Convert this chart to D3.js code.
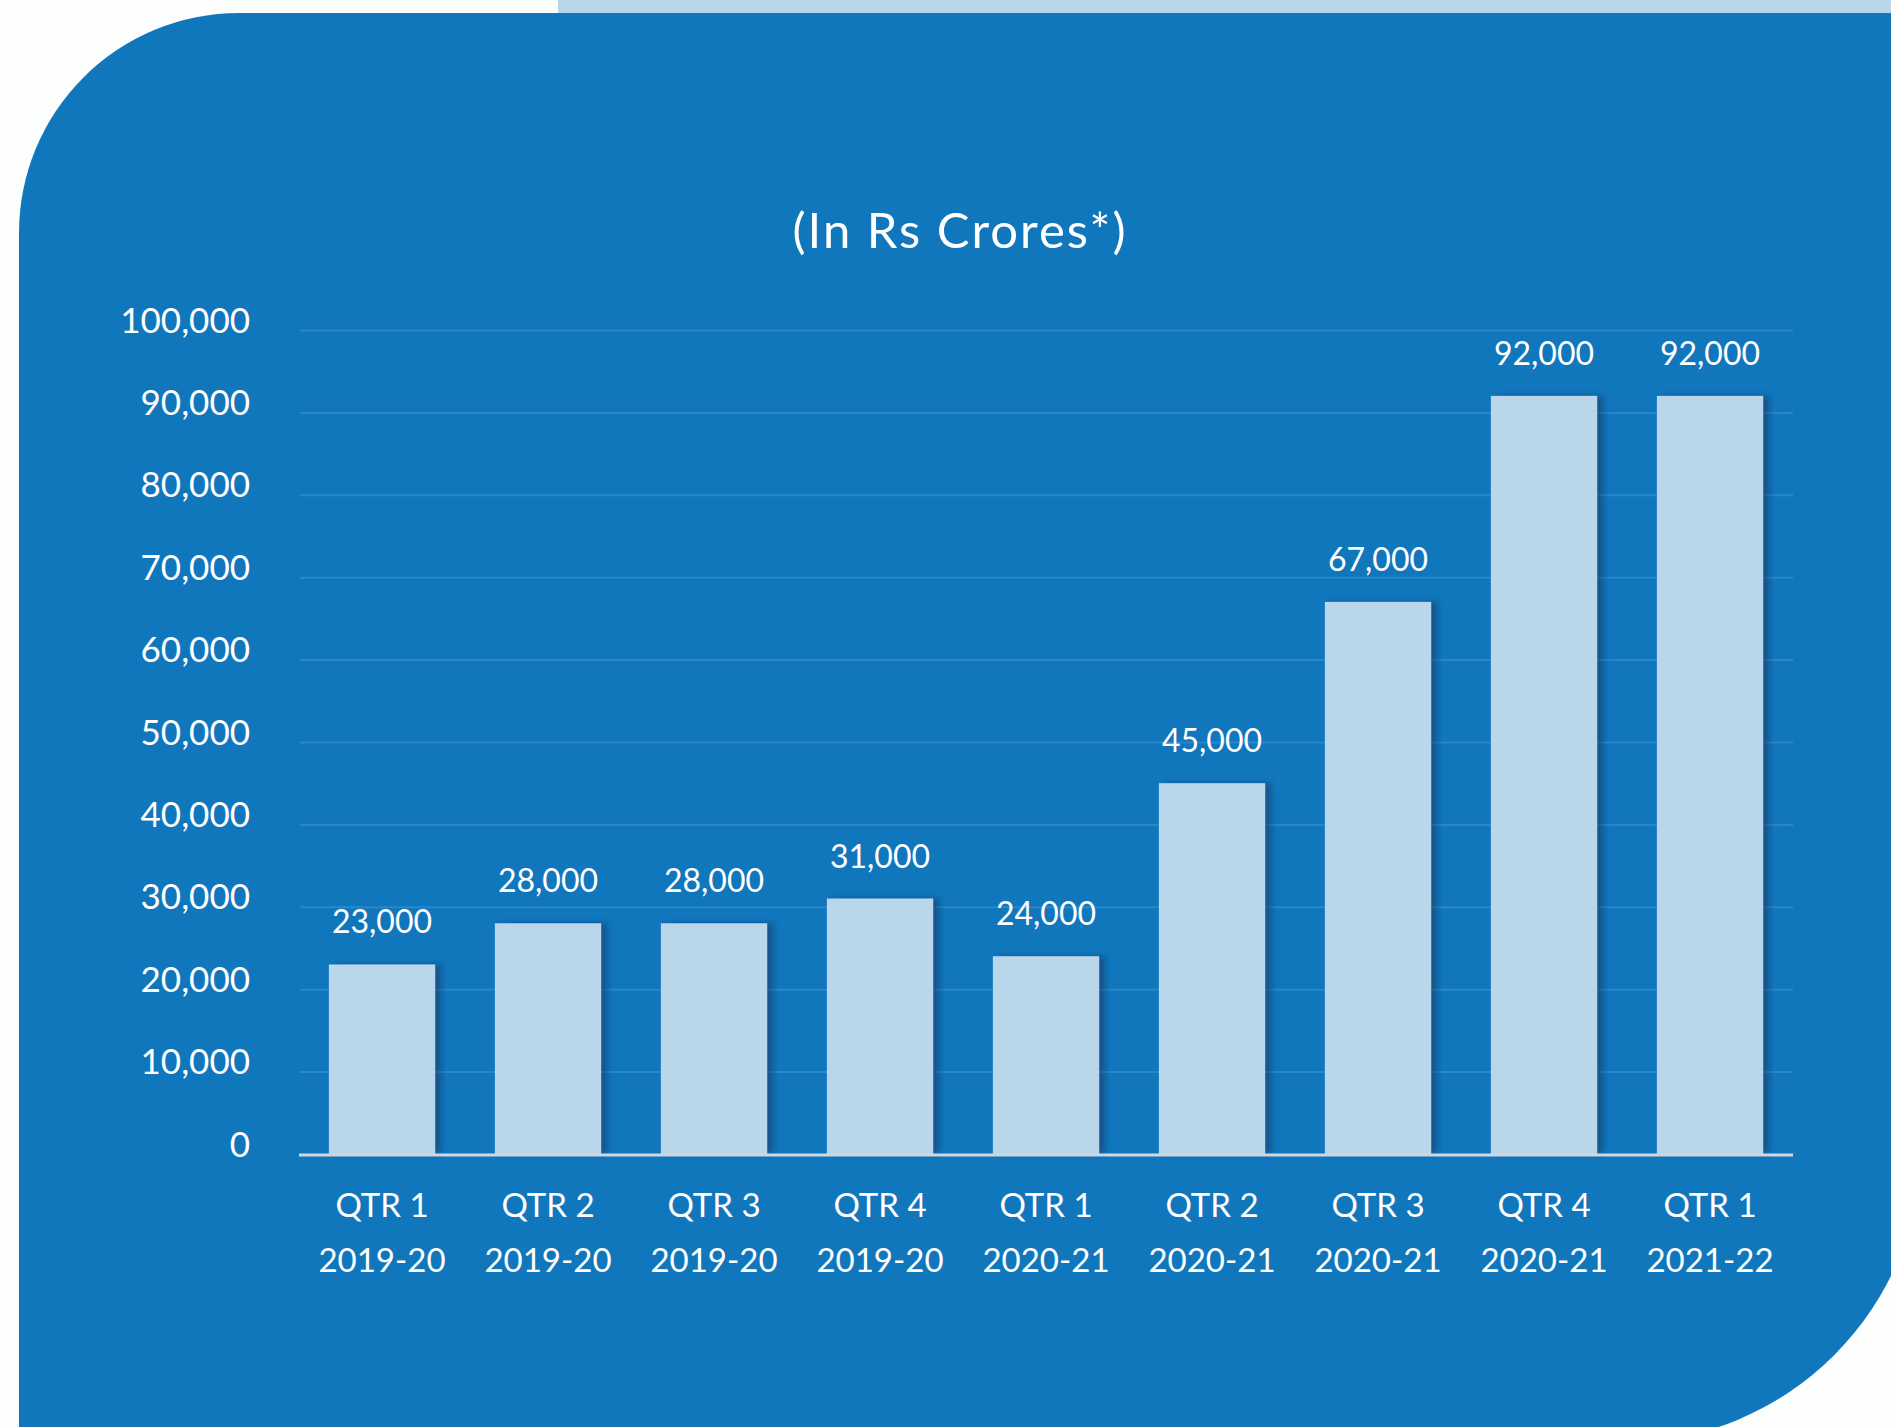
<!DOCTYPE html>
<html>
<head>
<meta charset="utf-8">
<script src="https://cdn.jsdelivr.net/npm/d3@7"></script>
<style>
    body { margin: 0; background: #fdfefe; }
    svg { display: block; }
    text { font-family: "Lato", "Open Sans", sans-serif; fill: #ffffff; }
</style>
</head>
<body>
<div id="chart"></div>
<script>
const quarters = ["QTR 1", "QTR 2", "QTR 3", "QTR 4", "QTR 1", "QTR 2", "QTR 3", "QTR 4", "QTR 1"];
const years = ["2019-20", "2019-20", "2019-20", "2019-20", "2020-21", "2020-21", "2020-21", "2020-21", "2021-22"];
const values = [23000, 28000, 28000, 31000, 24000, 45000, 67000, 92000, 92000];
const yTicks = [0, 10000, 20000, 30000, 40000, 50000, 60000, 70000, 80000, 90000, 100000];
const title = "(In Rs Crores*)";

const W = 1891, H = 1427;
const plotLeft = 299, plotRight = 1793, plotTop = 330, plotBottom = 1154;

const svg = d3.select("#chart").append("svg")
    .attr("width", W)
    .attr("height", H);

// shadow to the right of the bars
const defs = svg.append("defs");
defs.append("filter")
    .attr("id", "barShadow")
    .attr("x", "-20%").attr("y", "-5%")
    .attr("width", "150%").attr("height", "110%")
    .append("feDropShadow")
    .attr("dx", 6)
    .attr("dy", 0)
    .attr("stdDeviation", 3)
    .attr("flood-color", "#08365e")
    .attr("flood-opacity", 0.55);

// background panels
svg.append("rect")
    .attr("x", 558).attr("y", 0)
    .attr("width", W - 558).attr("height", 14)
    .attr("fill", "#b9d6eb");

var bl = 19, bt = 13, br = 1922, bb = 1443, r1 = 220, r2 = 300;
svg.append("path")
    .attr("fill", "#1177bd")
    .attr("d", "M" + (bl + r1) + "," + bt +
        " H" + br +
        " V" + (bb - r2) +
        " A" + r2 + "," + r2 + " 0 0 1 " + (br - r2) + "," + bb +
        " H" + bl +
        " V" + (bt + r1) +
        " A" + r1 + "," + r1 + " 0 0 1 " + (bl + r1) + "," + bt + " Z");

const x = d3.scaleBand()
    .domain(d3.range(values.length))
    .range([plotLeft, plotRight])
    .paddingInner(0.36)
    .paddingOuter(0.18);

const y = d3.scaleLinear()
    .domain([0, 100000])
    .range([plotBottom, plotTop]);

// title
svg.append("text")
    .attr("x", 960)
    .attr("y", 248)
    .attr("text-anchor", "middle")
    .attr("font-size", 49)
    .attr("letter-spacing", 2)
    .text(title);

// y axis with gridlines
var yAxis = svg.append("g")
    .attr("transform", "translate(300,0)")
    .call(d3.axisLeft(y)
        .tickValues(yTicks)
        .tickSize(-(plotRight - 300))
        .tickPadding(50)
        .tickFormat(d3.format(",")));

yAxis.select(".domain").remove();
yAxis.selectAll(".tick line")
    .attr("stroke", "#2b87c8")
    .attr("stroke-width", 2);
yAxis.selectAll(".tick text")
    .attr("dy", 2)
    .attr("font-size", 35)
    .attr("fill", "#ffffff");

// bars
svg.append("g")
    .selectAll("rect")
    .data(values)
    .enter()
    .append("rect")
    .attr("x", (d, i) => x(i))
    .attr("y", d => y(d))
    .attr("width", x.bandwidth())
    .attr("height", d => y(0) - y(d))
    .attr("fill", "#b9d6eb")
    .attr("filter", "url(#barShadow)");

// value labels
svg.append("g")
    .selectAll("text")
    .data(values)
    .enter()
    .append("text")
    .attr("x", (d, i) => x(i) + x.bandwidth() / 2)
    .attr("y", d => y(d) - 31)
    .attr("text-anchor", "middle")
    .attr("font-size", 32)
    .text(d3.format(","));

// baseline
svg.append("line")
    .attr("x1", plotLeft).attr("x2", plotRight)
    .attr("y1", plotBottom + 1).attr("y2", plotBottom + 1)
    .attr("stroke", "#cfd8df")
    .attr("stroke-width", 3);

// category labels
var xAxis = svg.append("g")
    .attr("transform", "translate(0," + plotBottom + ")")
    .call(d3.axisBottom(x).tickSize(0).tickFormat(() => ""));

xAxis.select(".domain").remove();
xAxis.selectAll(".tick text").each(function (d) {
    var t = d3.select(this)
        .attr("y", 0)
        .attr("dy", null)
        .attr("font-size", 33)
        .attr("fill", "#ffffff");
    t.append("tspan").attr("x", 0).attr("y", 63).text(quarters[d]);
    t.append("tspan").attr("x", 0).attr("y", 118).text(years[d]);
});
</script>
</body>
</html>
